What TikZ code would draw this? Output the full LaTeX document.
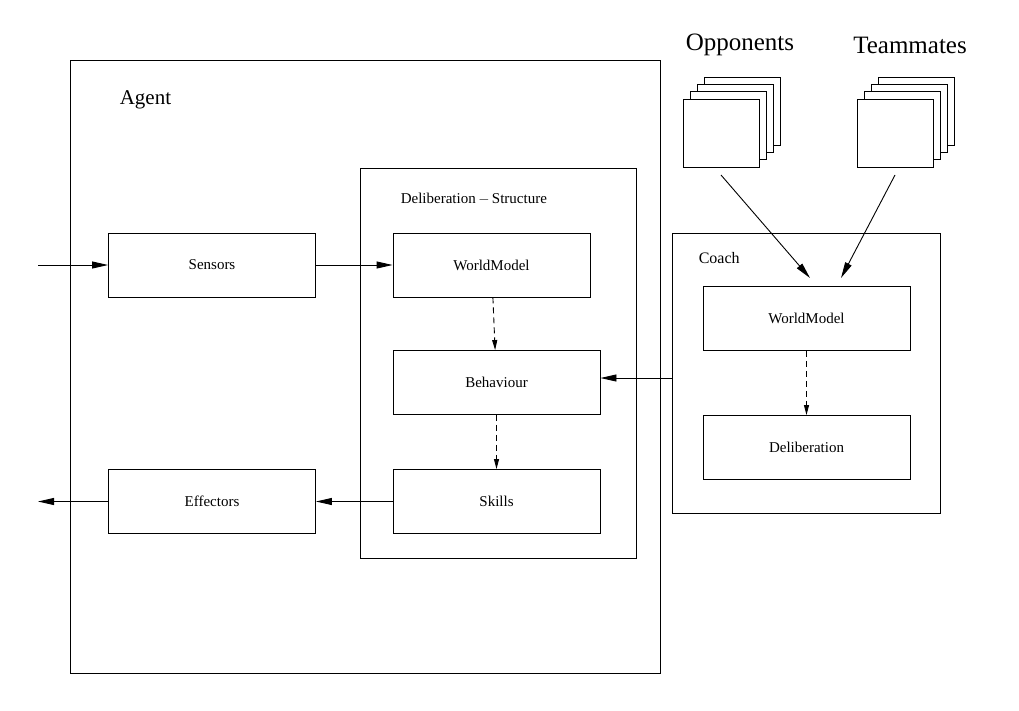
\documentclass[tikz,border=0pt]{standalone}
\usepackage{fontspec}
\setmainfont{Liberation Serif}
\usetikzlibrary{arrows.meta}
\begin{document}
\begin{tikzpicture}[x=1pt,y=-1pt,line width=0.9pt,
  box/.style={draw,minimum width=207pt,minimum height=64pt,font=\fontsize{15}{18}\selectfont,inner sep=0pt},
  frame/.style={draw},
  arr/.style={-{Triangle[length=16pt,width=7pt]}},
  darr/.style={dashed,dash pattern=on 6pt off 4pt,-{Triangle[length=10pt,width=5pt]}}]
\useasboundingbox (0,0) rectangle (1019,710);
\draw[frame] (70,60) rectangle (660,673);
\node[anchor=west,font=\fontsize{21}{24}\selectfont] (agent) at (116,100) {Agent};
\draw[frame] (360,168) rectangle (636,558);
\node[anchor=west,font=\fontsize{15}{18}\selectfont] (dslabel) at (397,199) {Deliberation\,$-$\,Structure};
\node[box,minimum width=197pt] (wm) at (491.5,265) {WorldModel};
\node[box] (beh) at (496.5,382.5) {Behaviour};
\node[box] (sk) at (496.5,501.5) {Skills};
\node[box] (sen) at (212,265) {Sensors};
\node[box] (eff) at (212,501.5) {Effectors};
\draw[frame] (672,233) rectangle (940,513);
\node[anchor=west,font=\fontsize{16}{19}\selectfont] (coach) at (695,258) {Coach};
\node[box] (cwm) at (806.5,318.5) {WorldModel};
\node[box] (del) at (806.5,447.5) {Deliberation};
\coordinate (in) at (38,265);
\coordinate (out) at (38,501.5);
\coordinate (cl) at (672,378);
\draw[arr] (in) -- (sen);
\draw[arr] (sen) -- (wm);
\draw[arr] (sk) -- (eff);
\draw[arr] (eff.west) -- (out);
\draw[arr] (cl) -- (cl -| beh.east);
\draw[darr] (wm) -- (beh);
\draw[darr] (beh) -- (sk);
\draw[darr] (cwm) -- (del);
\foreach \n/\x in {opp/683,team/857}{
  \foreach \i in {3,2,1}{
    \draw[fill=white] (\x+7.3*\i,99-7.3*\i) rectangle ++(76,68);
  }
  \node[draw,fill=white,minimum width=76pt,minimum height=68pt,inner sep=0pt] (\n) at (\x+38,133) {};
}
\node[font=\fontsize{25}{28}\selectfont] (opplab) at (740,45) {Opponents};
\node[font=\fontsize{25}{28}\selectfont] (teamlab) at (910,45) {Teammates};
\coordinate (oa) at (721,175);
\coordinate (ta) at (895,175);
\draw[arr] (oa) -- (810,278);
\draw[arr] (ta) -- (841,278);
\end{tikzpicture}
\end{document}
